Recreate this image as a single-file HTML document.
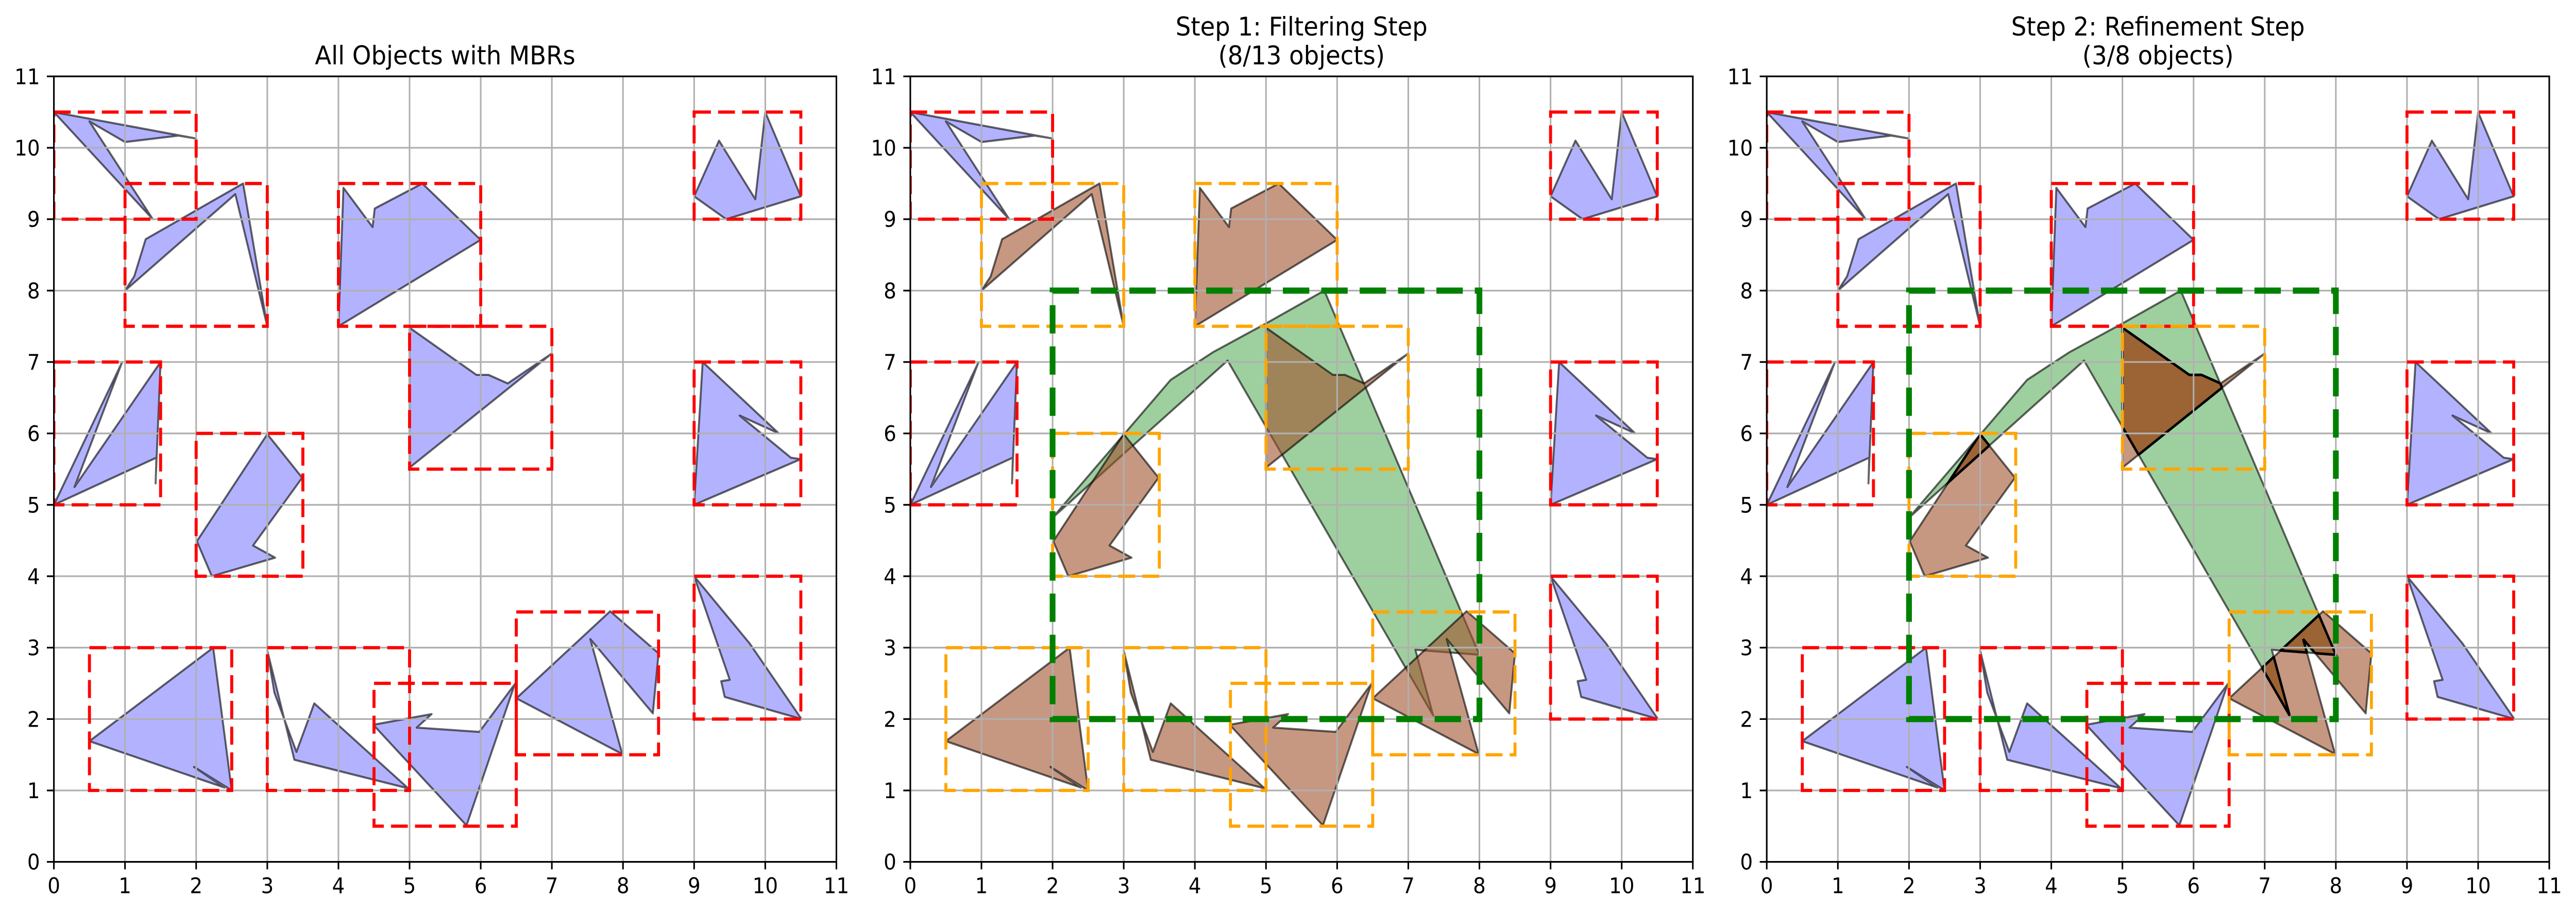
<!DOCTYPE html>
<html><head><meta charset="utf-8"><style>
html,body{margin:0;padding:0;background:#fff;overflow:hidden;width:100%;height:100%;}
svg{display:block;font-family:"DejaVu Sans","Liberation Sans",sans-serif;width:100vw;height:100vh;}
</style></head><body>
<svg id="fig" viewBox="0 0 5369 1773" preserveAspectRatio="none" xmlns="http://www.w3.org/2000/svg">
<rect width="5369" height="1773" fill="#fff"/>
<defs id="defs"></defs>
</svg>
<script>
// ---- data ----
const objectNames = ["A","B","C","D","E","F","G","H","I","J","K","L","M"];
const objA = [[0,10.5],[2,10.13],[1.75,10.17],[1.0,10.08],[0.5,10.37],[1.39,9.0],[0,10.5]];
const objB = [[1,8.0],[1.13,8.2],[1.29,8.72],[2.66,9.5],[3.0,7.5],[2.55,9.35],[1,8.0]];
const objC = [[4.0,7.5],[4.07,9.44],[4.48,8.89],[4.51,9.15],[5.18,9.5],[6.0,8.71]];
const objD = [[9.0,9.32],[9.35,10.1],[9.86,9.28],[10.0,10.5],[10.5,9.32],[9.45,9.0]];
const objE = [[5.0,7.48],[5.94,6.82],[6.11,6.82],[6.38,6.7],[7.0,7.12],[5.0,5.52]];
const objF = [[0,5.0],[0.96,7.0],[0.29,5.25],[1.5,7.0],[1.43,5.3],[1.44,5.66],[0,5.0]];
const objG = [[2.01,4.49],[3.0,5.99],[3.49,5.38],[2.8,4.43],[3.11,4.26],[2.22,4.0]];
const objH = [[9.0,5.0],[9.12,7.0],[10.19,6.0],[9.64,6.25],[10.36,5.66],[10.5,5.64]];
const objI = [[0.5,1.69],[2.24,3.0],[2.5,1.0],[1.97,1.33],[2.4,1.04],[0.5,1.69]];
const objJ = [[3.0,2.96],[3.1,2.37],[3.41,1.54],[3.66,2.22],[4.98,1.03],[3.38,1.43]];
const objK = [[4.49,1.92],[5.31,2.07],[5.1,1.88],[5.98,1.82],[6.48,2.49],[5.8,0.51]];
const objL = [[6.5,2.29],[7.82,3.51],[8.5,2.92],[8.42,2.08],[7.54,3.12],[7.99,1.51]];
const objM = [[9.0,4.0],[9.5,2.55],[9.38,2.53],[9.43,2.31],[10.51,2.0],[9.78,3.06]];
const objects = [objA,objB,objC,objD,objE,objF,objG,objH,objI,objJ,objK,objL,objM];
const mbrs = [[0,9,2,10.5],[1,7.5,3,9.5],[4,7.5,6,9.5],[9,9,10.5,10.5],[5,5.5,7,7.5],[0,5,1.5,7],[2,4,3.5,6],[9,5,10.5,7],[0.5,1,2.5,3],[3,1,5,3],[4.5,0.5,6.5,2.5],[6.5,1.5,8.5,3.5],[9,2,10.5,4]];
const queryPoly = [[2.0,4.82],[3.66,6.75],[4.26,7.14],[5.0,7.54],[5.82,8.0],[8.0,2.9],[7.1,2.97],[7.35,2.05],[4.46,7.02]];
const queryMBR = [2,2,8,8];
const filtered = [1,2,4,6,8,9,10,11];
const refined = [4,6,11];
const titles = [["All Objects with MBRs"],["Step 1: Filtering Step","(8/13 objects)"],["Step 2: Refinement Step","(3/8 objects)"]];
const ticks = [0,1,2,3,4,5,6,7,8,9,10,11];

// ---- layout ----
const X0 = [112.3,1897.3,3682.3];
const UX = 148.27, YT = 148.3, YB = 1673.7, UY = 138.67;
const NS = "http://www.w3.org/2000/svg";
const svg = document.getElementById('fig');
const defs = document.getElementById('defs');
function sx(p,x){return X0[p]+x*UX;}
function sy(y){return YB-y*UY;}
function mk(tag,attrs,parent){const e=document.createElementNS(NS,tag);for(const k in attrs)e.setAttribute(k,attrs[k]);(parent||svg).appendChild(e);return e;}
function pts(p,arr){return arr.map(q=>sx(p,q[0]).toFixed(1)+","+sy(q[1]).toFixed(1)).join(" ");}

for(let p=0;p<3;p++){
  const g=mk('g',{});
  
  
  const cp=mk('clipPath',{id:'ax'+p},defs);
  mk('rect',{x:X0[p],y:YT,width:11*UX,height:YB-YT},cp);
  const plot=mk('g',{'clip-path':'url(#ax'+p+')'},g);
  if(p>0){
    const q=mk('polygon',{points:pts(p,queryPoly),fill:'rgb(0,128,0)','fill-opacity':0.38,stroke:'#000','stroke-opacity':0.6,'stroke-width':4,'stroke-linejoin':'round'},plot);
    
    
    const qc=mk('clipPath',{id:'qc'+p},defs);
    mk('polygon',{points:pts(p,queryPoly)},qc);
  }
  objects.forEach((o,i)=>{
    let brown = (p===1 && filtered.includes(i)) || (p===2 && refined.includes(i));
    const poly=mk('polygon',{points:pts(p,o),fill:brown?'rgb(160,82,45)':'rgb(0,0,255)','fill-opacity':brown?0.6:0.3,stroke:'#000','stroke-opacity':0.6,'stroke-width':4,'stroke-linejoin':'round'},plot);
    
    
    if(p===2 && refined.includes(i)){
      const ip=mk('polygon',{points:pts(p,o),fill:'#9c6334',stroke:'#000','stroke-width':5,'clip-path':'url(#qc'+p+')'},plot);
      
      
      const oc=mk('clipPath',{id:'oc'+i},defs);
      mk('polygon',{points:pts(p,o)},oc);
      mk('polygon',{points:pts(p,queryPoly),fill:'none',stroke:'#000','stroke-width':5,'clip-path':'url(#oc'+i+')'},plot);
    }
  });
  ticks.forEach(t=>{
    mk('line',{x1:sx(p,t),x2:sx(p,t),y1:YT,y2:YB,stroke:'#b0b0b0','stroke-width':3.3},plot);
    mk('line',{x1:X0[p],x2:X0[p]+11*UX,y1:sy(t),y2:sy(t),stroke:'#b0b0b0','stroke-width':3.3},plot);
  });
  mbrs.forEach((m,i)=>{
    let col='red';
    if(p===1 && filtered.includes(i)) col='orange';
    if(p===2 && refined.includes(i)) col='orange';
    const r=mk('rect',{x:sx(p,m[0]),y:sy(m[3]),width:(m[2]-m[0])*UX,height:(m[3]-m[1])*UY,fill:'none',stroke:col,'stroke-width':6.25,'stroke-dasharray':'35 15'},plot);
    
    
  });
  if(p>0){
    const qm=mk('rect',{x:sx(p,queryMBR[0]),y:sy(queryMBR[3]),width:(queryMBR[2]-queryMBR[0])*UX,height:(queryMBR[3]-queryMBR[1])*UY,fill:'none',stroke:'green','stroke-width':12,'stroke-dasharray':'55 25'},plot);
    
    
  }
  const sp=mk('rect',{x:X0[p],y:YT,width:11*UX,height:YB-YT,fill:'none',stroke:'#000','stroke-width':3.3},g);
  
  
  ticks.forEach(t=>{
    mk('line',{x1:sx(p,t),x2:sx(p,t),y1:YB,y2:YB+14.6,stroke:'#000','stroke-width':3.3},g);
    mk('line',{x1:X0[p]-14.6,x2:X0[p],y1:sy(t),y2:sy(t),stroke:'#000','stroke-width':3.3},g);
    const xl=mk('text',{x:sx(p,t),y:YB+61,'font-size':41.7,'text-anchor':'middle',fill:'#000'},g);
    xl.textContent=t;
    
    
    const yl=mk('text',{x:X0[p]-29,y:sy(t)+15,'font-size':41.7,'text-anchor':'end',fill:'#000'},g);
    yl.textContent=t;
    
    
  });
  const lines=titles[p];
  lines.forEach((s,k)=>{
    const ty = lines.length===1 ? 125 : (k===0?69:125);
    const tt=mk('text',{x:X0[p]+5.5*UX,y:ty,'font-size':50,'text-anchor':'middle',fill:'#000'},g);
    tt.textContent=s;
    
    
  });
}
</script>
</body></html>
